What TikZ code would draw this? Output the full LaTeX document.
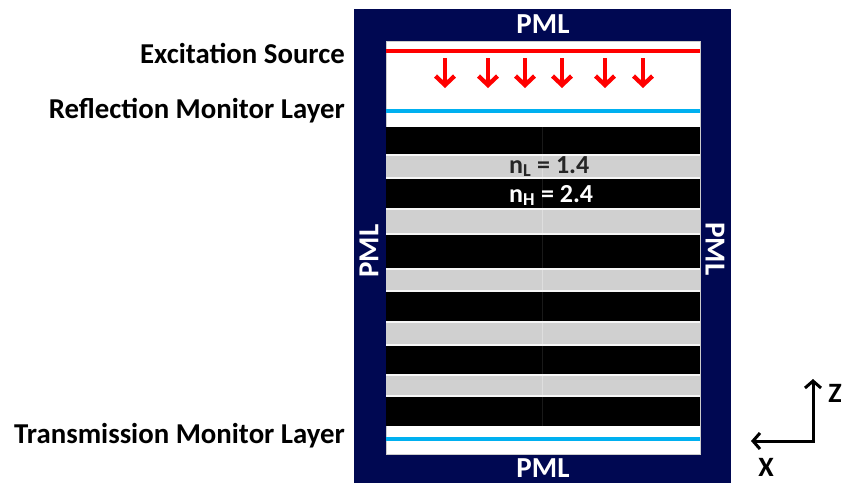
\documentclass[tikz,border=0pt]{standalone}
\usepackage{fontspec}
\setmainfont{Carlito}
\usetikzlibrary{arrows.meta}
\definecolor{pmlnavy}{RGB}{0,8,82}
\definecolor{srcred}{RGB}{255,0,0}
\definecolor{monblue}{RGB}{0,176,240}
\definecolor{lowgray}{RGB}{208,208,208}
\definecolor{seamgray}{RGB}{222,222,222}
\begin{document}
\begin{tikzpicture}[x=1pt,y=-1pt,
  lbl/.style={font=\fontsize{28.8}{30}\selectfont\bfseries, inner sep=0pt, anchor=base east},
  pmltext/.style={font=\fontsize{29}{30}\selectfont\bfseries, text=white, inner sep=0pt},
  idx/.style={font=\fontsize{26}{28}\selectfont\bfseries, inner sep=0pt, anchor=base west},
  axis/.style={line width=3pt, -{Straight Barb[length=7pt,width=16pt]}},
  srcarrow/.style={srcred, line width=4.3pt, -{Straight Barb[length=9pt,width=19pt]}},
  monline/.style={monblue, line width=4pt},
  hlayer/.style={fill=black},
  llayer/.style={fill=lowgray}]
\useasboundingbox (0,0) rectangle (844,483);

% PML frame and inner simulation region
\fill[pmlnavy] (354,9) rectangle (731,483);
\filldraw[fill=white, draw=gray!40, line width=0.8pt] (386,41) rectangle (700,454);

% multilayer stack: high index (black) and low index (gray)
\foreach \a/\b in {127/154,179/208,235/268,292/321,346/374,397/426}
  \fill[hlayer] (386,\a) rectangle (700,\b);
\foreach \a/\b in {154/179,208/235,268/292,321/346,374/397}{
  \fill[llayer] (386,\a) rectangle (700,\b);
  \draw[white!80!lowgray, line width=1.5pt] (386,\a+1.2) -- (700,\a+1.2);
  \draw[white!80!lowgray, line width=1.5pt] (386,\b-1.2) -- (700,\b-1.2);
  \draw[seamgray, line width=0.6pt] (542,\a+2) -- (542,\b-2);
}
\foreach \a/\b in {127/154,179/208,235/268,292/321,346/374,397/426}
  \draw[black!90!white, line width=0.4pt] (542,\a) -- (542,\b);

% source plane and monitors
\draw[srcred, line width=4pt] (386,50.5) -- (700,50.5);
\foreach \x in {445,488,525,562,605,643}
  \draw[srcarrow] (\x,58) -- (\x,88);
\draw[monline] (386,111) -- (700,111);
\draw[monline] (386,439) -- (700,439);

% PML labels
\node[pmltext, anchor=base] (pmltop) at (543,33) {PML};
\node[pmltext, anchor=base] (pmlbot) at (543,477.5) {PML};
\node[pmltext, rotate=90] (pmlleft) at (369,251) {PML};
\node[pmltext, rotate=-90] (pmlright) at (715,249) {PML};

% refractive indices
\node[idx, text=black!85] (nlow) at (509,173) {n\textsubscript{L} = 1.4};
\node[idx, text=white] (nhigh) at (509,202) {n\textsubscript{H} = 2.4};

% region labels
\node[lbl] (srclbl) at (345,63) {Excitation Source};
\node[lbl] (reflbl) at (345,118) {Reflection Monitor Layer};
\node[lbl] (tralbl) at (345,443) {Transmission Monitor Layer};

% coordinate axes
\coordinate (origin) at (813,441);
\coordinate (zend) at (813,379);
\coordinate (xend) at (751,441);
\draw[axis] (origin) -- (zend);
\draw[axis, shorten <=-1.5pt] (origin) -- (xend);
\node[font=\fontsize{28}{30}\selectfont\bfseries, inner sep=0pt] (zlbl) at (835,393) {Z};
\node[font=\fontsize{28}{30}\selectfont\bfseries, inner sep=0pt] (xlbl) at (766,467) {X};
\end{tikzpicture}
\end{document}
